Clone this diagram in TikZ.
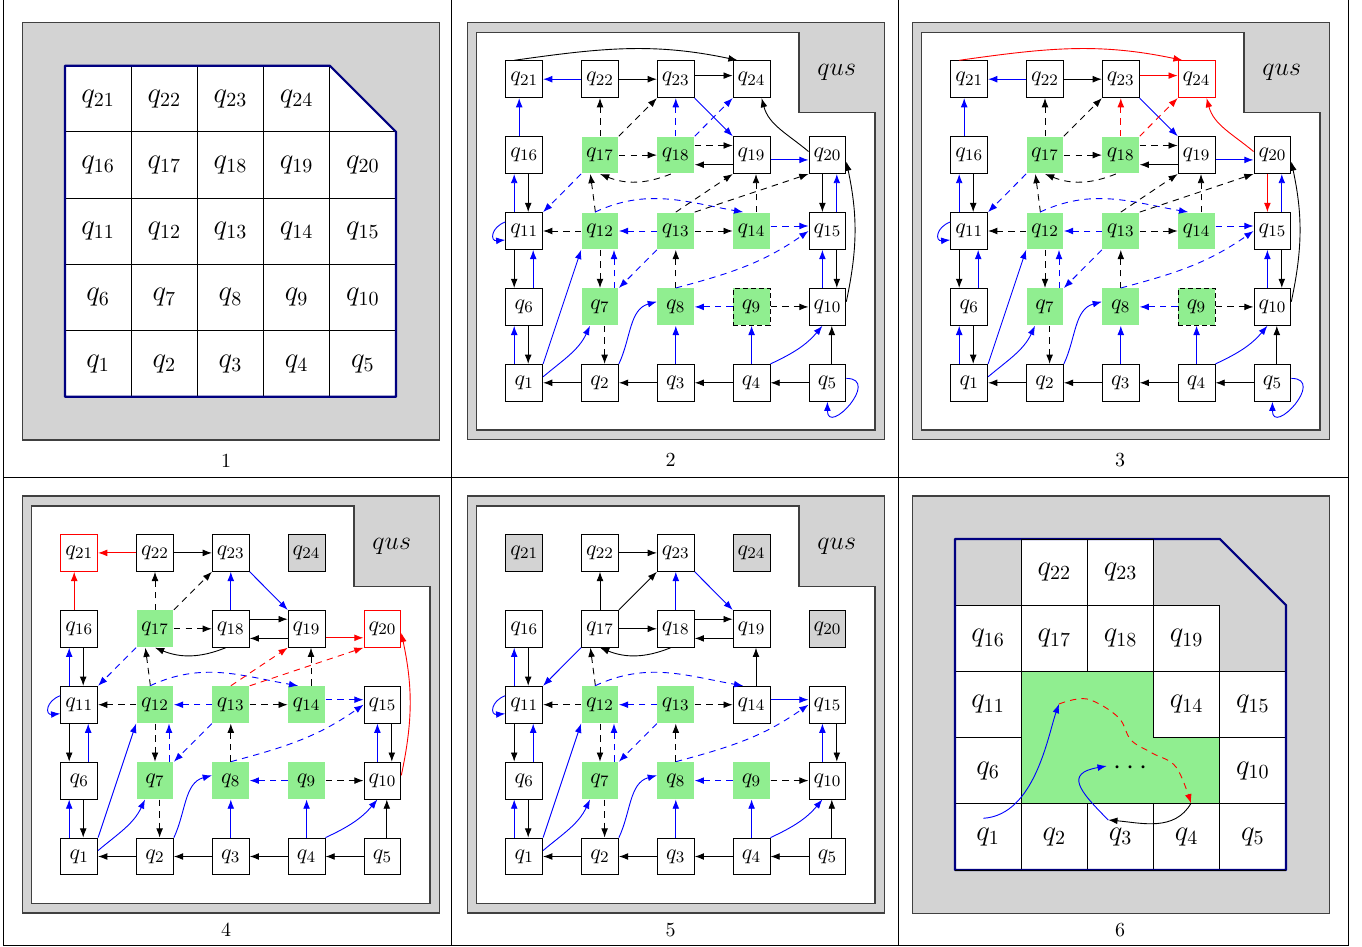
\documentclass[tikz,border=0pt]{standalone}
\usetikzlibrary{arrows.meta}
\definecolor{lgray}{RGB}{211,211,211}
\definecolor{lgreen}{RGB}{144,238,144}
\definecolor{navyb}{RGB}{0,0,128}
\tikzset{
  qbase/.style={minimum size=18.4pt, inner sep=0pt, line width=0.5pt, font=\fontsize{10.95pt}{13pt}\selectfont},
  wnode/.style={qbase, draw=black, fill=white},
  gnode/.style={qbase, fill=lgreen},
  gdnode/.style={qbase, fill=lgreen, draw=black, dash pattern=on 2.5pt off 1.5pt},
  rnode/.style={qbase, draw=red, fill=white},
  xnode/.style={qbase, draw=black, fill=lgray},
  conn/.style={-{Latex[length=4.6pt,width=3.4pt]}, line width=0.45pt},
  bk/.style={conn, black},
  bl/.style={conn, blue},
  rd/.style={conn, red},
  dsh/.style={dash pattern=on 3.2pt off 2.6pt},
  frm/.style={draw=black!75, line width=0.6pt},
  gl/.style={draw=black, line width=0.5pt},
  outl/.style={draw=navyb, line width=1.1pt, line join=round},
  cell/.style={font=\Large, inner sep=0pt},
  plabel/.style={font=\normalsize, inner sep=0pt},
}
\newcommand\qgrid[2]{%
  \foreach \i/\s in {#2}{%
    \pgfmathsetmacro\cx{75.8*mod(\i-1,5)}%
    \pgfmathsetmacro\cy{75.9*int((\i-1)/5)}%
    \node[\s] (#1\i) at (\cx,\cy) {$q_{\i}$};
  }%
}
\newcommand\qframe[1]{%
  \draw[frm, fill=lgray] (-56.9,-56.5) rectangle (360.1,360.5);
  \draw[frm, fill=white] (-47.5,-47.2) -- (350.8,-47.2) -- (350.8,270.1) -- (274.8,270.1) -- (274.8,350.5) -- (-47.5,350.5) -- cycle;
  \node[font=\large, inner sep=0pt] (#1us) at (312.5,310) {\scalebox{1.08}{$qus$}};
}
\newcommand\commonedges[1]{%
  \draw[bk] (#12.west) -- (#11.east);
  \draw[bk] (#13.west) -- (#12.east);
  \draw[bk] (#14.west) -- (#13.east);
  \draw[bk] (#15.west) -- (#14.east);
  \draw[bl] ([xshift=-5pt]#11.north) -- ([xshift=-5pt]#16.south);
  \draw[bk] ([xshift=2pt]#16.south) -- ([xshift=2pt]#11.north);
  \draw[bk] ([xshift=-5pt]#111.south) -- ([xshift=-5pt]#16.north);
  \draw[bl] ([xshift=4.5pt]#16.north) -- ([xshift=4.5pt]#111.south);
  \draw[bl] ([xshift=-5pt]#111.north) -- ([xshift=-5pt]#116.south);
  \draw[bk] ([xshift=2pt]#116.south) -- ([xshift=2pt]#111.north);
  \draw[bl] (#11.north east) -- (#112.south west);
  \draw[bl] ([yshift=3pt]#11.east) to[out=40,in=-115] ([xshift=-5pt]#17.south);
  \draw[bl] (#12.north east) to[out=65,in=195] ([yshift=2.6pt]#18.west);
  \draw[bk,dsh] ([xshift=2.3pt]#17.south) -- ([xshift=2.3pt]#12.north);
  \draw[bl] (#13.north) -- (#18.south);
  \draw[bl] (#14.north) -- (#19.south);
  \draw[bl] (#14.north east) to[out=25,in=-130] ([xshift=-2.5pt]#110.south);
  \draw[bk] ([xshift=2.2pt]#15.north) -- ([xshift=2.2pt]#110.south);
  \draw[bk,dsh] (#112.south) -- (#17.north);
  \draw[bl,dsh] ([xshift=7pt]#17.north) -- ([xshift=7pt]#112.south);
  \draw[bl,dsh] (#113.south west) -- (#17.north east);
  \draw[bk,dsh] (#18.north) -- (#113.south);
  \draw[bl,dsh] (#18.north) to[out=15,in=215] (#115.west);
  \draw[bl,dsh] (#19.west) -- (#18.east);
  \draw[bk,dsh] (#19.east) -- (#110.west);
  \draw[bk] ([xshift=4.7pt]#115.south) -- ([xshift=4.7pt]#110.north);
  \draw[bl] ([xshift=-2.5pt]#110.north) -- ([xshift=-2.5pt]#115.south);
  \draw[bk,dsh] (#112.west) -- (#111.east);
  \draw[bl,dsh] (#113.west) -- (#112.east);
  \draw[bk,dsh] (#113.east) -- (#114.west);
  \draw[bl] ([yshift=4.5pt]#111.west) to[out=200,in=185,looseness=2.2] ([yshift=-4.5pt]#111.west);
  \draw[bk,dsh] ([xshift=-2.3pt]#112.north) -- ([xshift=-4.8pt]#117.south);
  \draw[bl,dsh] ([xshift=-2.5pt]#112.north) to[out=25,in=170] ([xshift=-4.2pt]#114.north);
  \draw[bk] (#122.east) -- (#123.west);
  \draw[bl] (#123.south east) -- (#119.north west);
  \draw[bk] ([yshift=-4.8pt]#119.west) -- ([yshift=-4.8pt]#118.east);
}
\begin{document}
\begin{tikzpicture}[x=0.5pt,y=0.5pt]
\useasboundingbox (0,0) rectangle (1362,-947);

% ---------- table rules ----------
\draw[gl] (3.3,0) -- (3.3,-945.7);
\draw[gl] (451,0) -- (451,-945.7);
\draw[gl] (898,0) -- (898,-945.7);
\draw[gl] (1348.3,0) -- (1348.3,-945.7);
\draw[gl] (3.3,-477.7) -- (1348.3,-477.7);
\draw[gl] (3.3,-945.7) -- (1348.3,-945.7);

% ---------- panel 1 ----------
\begin{scope}
  \draw[frm, fill=lgray] (22.3,-22.7) rectangle (439.3,-440);
  \fill[white] (65,-65.7) -- (329.8,-65.7) -- (396,-131.9) -- (396,-396.7) -- (65,-396.7) -- cycle;
  \foreach \k in {1,2,3,4}{
    \draw[gl] ({65+66.2*\k},-65.7) -- ({65+66.2*\k},-396.7);
    \draw[gl] (65,{-65.7-66.2*\k}) -- (396,{-65.7-66.2*\k});
  }
  \draw[outl] (65,-65.7) -- (329.8,-65.7) -- (396,-131.9) -- (396,-396.7) -- (65,-396.7) -- cycle;
  \foreach \n in {1,...,24}{
    \pgfmathsetmacro\cx{98.1+66.2*mod(\n-1,5)}
    \pgfmathsetmacro\cy{-98.8-66.2*(4-int((\n-1)/5))}
    \node[cell] (a\n) at (\cx,\cy) {$q_{\n}$};
  }
\end{scope}

% ---------- panel 2 ----------
\begin{scope}[shift={(524.2,-382.8)}]
  \qframe{b}
  \qgrid{b}{1/wnode,2/wnode,3/wnode,4/wnode,5/wnode,6/wnode,7/gnode,8/gnode,9/gdnode,10/wnode,11/wnode,12/gnode,13/gnode,14/gnode,15/wnode,16/wnode,17/gnode,18/gnode,19/wnode,20/wnode,21/wnode,22/wnode,23/wnode,24/wnode}
  \commonedges{b}
  \draw[bl] ([xshift=-2.5pt]b16.north) -- ([xshift=-2.5pt]b21.south);
  \draw[bl] (b22.west) -- (b21.east);
  \draw[bk] ([xshift=-5pt]b21.north) to[out=8,in=168] ([xshift=-7pt]b24.north);
  \draw[bk] ([yshift=1.8pt]b23.east) -- ([yshift=1.8pt]b24.west);
  \draw[bk,dsh] (b17.north) -- (b22.south);
  \draw[bk,dsh] (b17.north east) -- (b23.south west);
  \draw[bl,dsh] (b18.north) -- (b23.south);
  \draw[bl,dsh] (b18.north east) -- (b24.south west);
  \draw[bk] ([yshift=1.8pt]b20.west) to[out=140,in=-75] ([xshift=5pt]b24.south);
  \draw[bk,dsh] (b17.east) -- (b18.west);
  \draw[bk,dsh] ([yshift=4.8pt]b18.east) -- ([yshift=4.8pt]b19.west);
  \draw[bk,dsh] ([xshift=-2.5pt]b18.south) to[bend left=22] (b17.south);
  \draw[bl] ([yshift=-2.4pt]b19.east) -- ([yshift=-2.4pt]b20.west);
  \draw[bl,dsh] (b17.south west) -- (b11.north east);
  \draw[bk,dsh] (b13.north) -- (b19.south west);
  \draw[bk,dsh] (b13.north east) -- (b20.south west);
  \draw[bk,dsh] ([xshift=2.2pt]b14.north) -- ([xshift=2.2pt]b19.south);
  \draw[bl,dsh] ([yshift=2.5pt]b14.east) -- ([yshift=2.5pt]b15.west);
  \draw[bk] ([xshift=-2.5pt]b20.south) -- ([xshift=-2.5pt]b15.north);
  \draw[bl] ([xshift=4.7pt]b15.north) -- ([xshift=4.7pt]b20.south);
  \draw[bk] ([yshift=2.6pt]b10.east) to[out=78,in=-78] ([yshift=-3.2pt]b20.east);
  \draw[bl] ([yshift=2.2pt]b5.east) to[out=0,in=-90,looseness=3] (b5.south);
\end{scope}

% ---------- panel 3 ----------
\begin{scope}[shift={(969.2,-382.8)}]
  \qframe{c}
  \qgrid{c}{1/wnode,2/wnode,3/wnode,4/wnode,5/wnode,6/wnode,7/gnode,8/gnode,9/gdnode,10/wnode,11/wnode,12/gnode,13/gnode,14/gnode,15/wnode,16/wnode,17/gnode,18/gnode,19/wnode,20/wnode,21/wnode,22/wnode,23/wnode,24/rnode}
  \commonedges{c}
  \draw[bl] ([xshift=-2.5pt]c16.north) -- ([xshift=-2.5pt]c21.south);
  \draw[bl] (c22.west) -- (c21.east);
  \draw[rd] ([xshift=-5pt]c21.north) to[out=8,in=168] ([xshift=-7pt]c24.north);
  \draw[rd] ([yshift=1.8pt]c23.east) -- ([yshift=1.8pt]c24.west);
  \draw[bk,dsh] (c17.north) -- (c22.south);
  \draw[bk,dsh] (c17.north east) -- (c23.south west);
  \draw[rd,dsh] (c18.north) -- (c23.south);
  \draw[rd,dsh] (c18.north east) -- (c24.south west);
  \draw[rd] ([yshift=1.8pt]c20.west) to[out=140,in=-75] ([xshift=5pt]c24.south);
  \draw[bk,dsh] (c17.east) -- (c18.west);
  \draw[bk,dsh] ([yshift=4.8pt]c18.east) -- ([yshift=4.8pt]c19.west);
  \draw[bk,dsh] ([xshift=-2.5pt]c18.south) to[bend left=22] (c17.south);
  \draw[bl] ([yshift=-2.4pt]c19.east) -- ([yshift=-2.4pt]c20.west);
  \draw[bl,dsh] (c17.south west) -- (c11.north east);
  \draw[bk,dsh] (c13.north) -- (c19.south west);
  \draw[bk,dsh] (c13.north east) -- (c20.south west);
  \draw[bk,dsh] ([xshift=2.2pt]c14.north) -- ([xshift=2.2pt]c19.south);
  \draw[bl,dsh] ([yshift=2.5pt]c14.east) -- ([yshift=2.5pt]c15.west);
  \draw[rd] ([xshift=-2.5pt]c20.south) -- ([xshift=-2.5pt]c15.north);
  \draw[bl] ([xshift=4.7pt]c15.north) -- ([xshift=4.7pt]c20.south);
  \draw[bk] ([yshift=2.6pt]c10.east) to[out=78,in=-78] ([yshift=-3.2pt]c20.east);
  \draw[bl] ([yshift=2.2pt]c5.east) to[out=0,in=-90,looseness=3] (c5.south);
\end{scope}

% ---------- panel 4 ----------
\begin{scope}[shift={(79.2,-856.5)}]
  \qframe{d}
  \qgrid{d}{1/wnode,2/wnode,3/wnode,4/wnode,5/wnode,6/wnode,7/gnode,8/gnode,9/gnode,10/wnode,11/wnode,12/gnode,13/gnode,14/gnode,15/wnode,16/wnode,17/gnode,18/wnode,19/wnode,20/rnode,21/rnode,22/wnode,23/wnode,24/xnode}
  \commonedges{d}
  \draw[rd] ([xshift=-2.5pt]d16.north) -- ([xshift=-2.5pt]d21.south);
  \draw[rd] (d22.west) -- (d21.east);
  \draw[bk,dsh] (d17.north) -- (d22.south);
  \draw[bk,dsh] (d17.north east) -- (d23.south west);
  \draw[bl] (d18.north) -- (d23.south);
  \draw[bk,dsh] (d17.east) -- (d18.west);
  \draw[bk] ([yshift=4.8pt]d18.east) -- ([yshift=4.8pt]d19.west);
  \draw[bk] ([xshift=-2.5pt]d18.south) to[bend left=22] (d17.south);
  \draw[rd] ([yshift=-4.5pt]d19.east) -- ([yshift=-4.5pt]d20.west);
  \draw[bl,dsh] (d17.south west) -- (d11.north east);
  \draw[rd,dsh] (d13.north) -- (d19.south west);
  \draw[rd,dsh] (d13.north east) -- (d20.south west);
  \draw[bk,dsh] ([xshift=2.2pt]d14.north) -- ([xshift=2.2pt]d19.south);
  \draw[bl,dsh] ([yshift=2.5pt]d14.east) -- ([yshift=2.5pt]d15.west);
  \draw[rd] ([yshift=2.6pt]d10.east) to[out=78,in=-78] ([yshift=-2pt]d20.east);
\end{scope}

% ---------- panel 5 ----------
\begin{scope}[shift={(524.2,-856.5)}]
  \qframe{e}
  \qgrid{e}{1/wnode,2/wnode,3/wnode,4/wnode,5/wnode,6/wnode,7/gnode,8/gnode,9/gnode,10/wnode,11/wnode,12/gnode,13/gnode,14/wnode,15/wnode,16/wnode,17/wnode,18/wnode,19/wnode,20/xnode,21/xnode,22/wnode,23/wnode,24/xnode}
  \commonedges{e}
  \draw[bk] (e17.north) -- (e22.south);
  \draw[bk] (e17.north east) -- (e23.south west);
  \draw[bl] (e18.north) -- (e23.south);
  \draw[bk] (e17.east) -- (e18.west);
  \draw[bk] ([yshift=4.8pt]e18.east) -- ([yshift=4.8pt]e19.west);
  \draw[bk] ([xshift=-2.5pt]e18.south) to[bend left=22] (e17.south);
  \draw[bl] (e17.south west) -- (e11.north east);
  \draw[bk] ([xshift=2.2pt]e14.north) -- ([xshift=2.2pt]e19.south);
  \draw[bl] ([yshift=2.5pt]e14.east) -- ([yshift=2.5pt]e15.west);
\end{scope}

% ---------- panel 6 ----------
\begin{scope}[shift={(890,-473.3)}]
  \draw[frm, fill=lgray] (22.3,-22.7) rectangle (439.3,-440);
  \fill[white] (65,-65.7) -- (329.8,-65.7) -- (396,-131.9) -- (396,-396.7) -- (65,-396.7) -- cycle;
  \fill[lgray] (65,-65.7) rectangle (131.2,-131.9);
  \fill[lgray] (263.6,-65.7) -- (329.8,-65.7) -- (396,-131.9) -- (396,-198.1) -- (329.8,-198.1) -- (329.8,-131.9) -- (263.6,-131.9) -- cycle;
  \fill[lgreen] (131.2,-198.1) -- (263.6,-198.1) -- (263.6,-264.3) -- (329.8,-264.3) -- (329.8,-330.5) -- (131.2,-330.5) -- cycle;
  \draw[gl] (131.2,-65.7) -- (131.2,-396.7);
  \draw[gl] (197.4,-65.7) -- (197.4,-198.1);
  \draw[gl] (197.4,-330.5) -- (197.4,-396.7);
  \draw[gl] (263.6,-65.7) -- (263.6,-264.3);
  \draw[gl] (263.6,-330.5) -- (263.6,-396.7);
  \draw[gl] (329.8,-131.9) -- (329.8,-396.7);
  \draw[gl] (65,-131.9) -- (329.8,-131.9);
  \draw[gl] (65,-198.1) -- (396,-198.1);
  \draw[gl] (65,-264.3) -- (131.2,-264.3);
  \draw[gl] (263.6,-264.3) -- (396,-264.3);
  \draw[gl] (65,-330.5) -- (396,-330.5);
  \draw[outl] (65,-65.7) -- (329.8,-65.7) -- (396,-131.9) -- (396,-396.7) -- (65,-396.7) -- cycle;
  \draw[gl] (131.2,-65.7) -- (263.6,-65.7);
  \draw[gl] (65,-396.7) -- (396,-396.7);
  \foreach \n in {1,2,3,4,5,6,10,11,14,15,16,17,18,19,22,23}{
    \pgfmathsetmacro\cx{98.1+66.2*mod(\n-1,5)}
    \pgfmathsetmacro\cy{-98.8-66.2*(4-int((\n-1)/5))}
    \node[cell] (f\n) at (\cx,\cy) {$q_{\n}$};
  }
\end{scope}
\coordinate (fs) at (983.3,-818.3);
\coordinate (fa) at (1059,-704);
\coordinate (fb) at (1191,-803.3);
\coordinate (fc) at (1108.3,-820);
\coordinate (fd) at (1106.7,-766);
\node[cell] (fdots) at (1130.5,-768) {$\cdots$};
\draw[bl] (fs) .. controls (1035,-815) and (1048,-735) .. (fa);
\draw[rd,dsh] plot[smooth,tension=0.6] coordinates {(fa) (1087,-699) (1118,-717) (1131,-740) (1152,-753) (1176,-767) (fb)};
\draw[bk] (fb) to[out=-120,in=-5] (fc);
\draw[bl] (fc) to[out=135,in=190,looseness=2] (fd);

% ---------- panel numbers ----------
\node[plabel] (n1) at (226,-461) {1};
\node[plabel] (n2) at (670.5,-460) {2};
\node[plabel] (n3) at (1120,-460) {3};
\node[plabel] (n4) at (226,-930) {4};
\node[plabel] (n5) at (670.5,-930) {5};
\node[plabel] (n6) at (1120,-930) {6};
\end{tikzpicture}
\end{document}
